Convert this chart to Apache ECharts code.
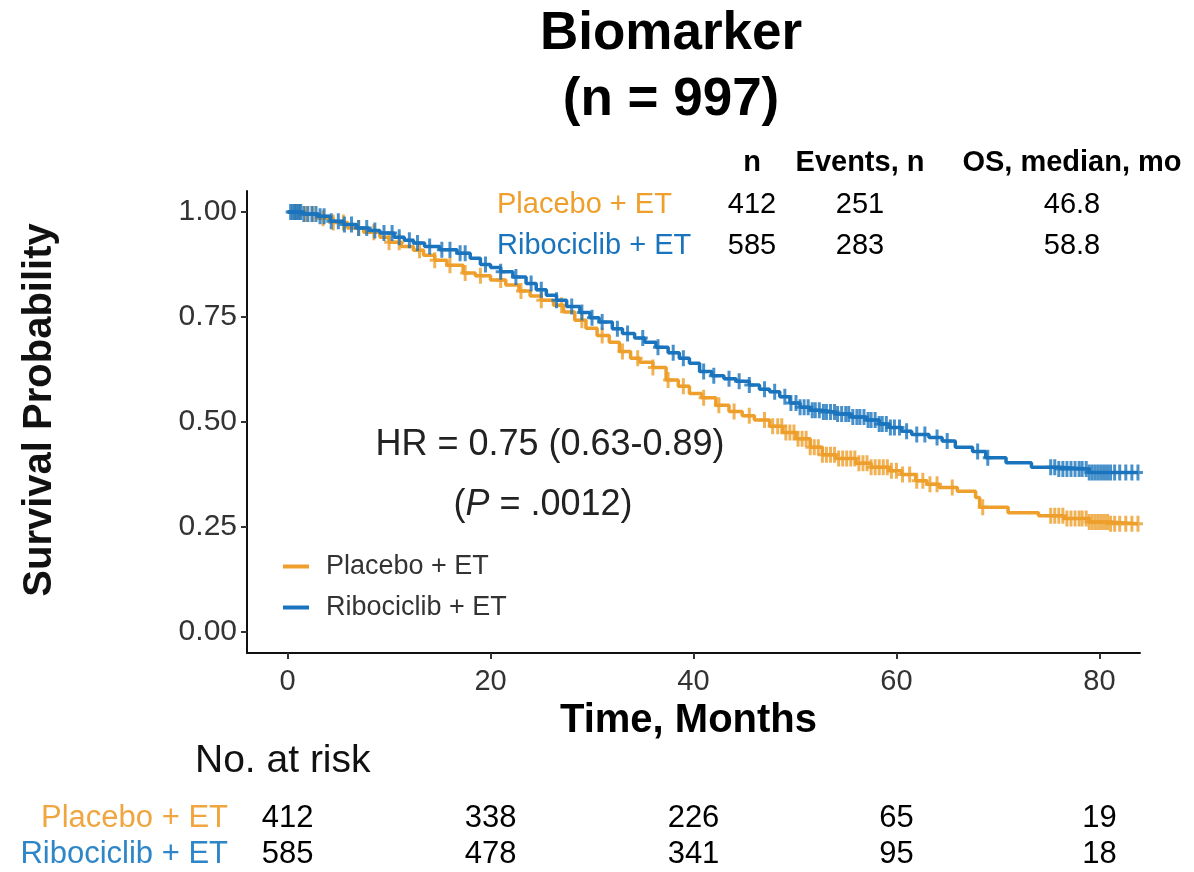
<!DOCTYPE html>
<html>
<head>
<meta charset="utf-8">
<script src="https://cdn.jsdelivr.net/npm/echarts@6/dist/echarts.min.js"></script>
<style>
html,body{margin:0;padding:0;background:#fff;}
#main{width:1194px;height:872px;}
</style>
</head>
<body>
<div id="main"></div>
<script>
// ---- Data ----
const groups = ['Placebo + ET', 'Ribociclib + ET'];

const placeboT = [0,1.5,3,4.5,5.9,7.5,9.1,10,11.2,12.4,13.4,14.5,15.7,17.3,18.5,20,21.5,22.8,23.9,25,26.2,27.2,28.3,29.4,30.5,31.7,32.7,33.8,34.7,36,37.3,38.5,39.6,40.8,42.2,43.5,44.8,46,47.5,48.8,50.1,51.5,52.7,54,56,57.5,59.3,60.5,61.9,63,64.2,66,67.8,68.2,71,74,76.5,79,81,83.8];
const placeboS = [1,0.995,0.985,0.975,0.962,0.952,0.94,0.928,0.918,0.909,0.897,0.885,0.873,0.855,0.848,0.838,0.826,0.812,0.8,0.79,0.778,0.762,0.742,0.723,0.706,0.69,0.668,0.652,0.642,0.63,0.6,0.585,0.568,0.558,0.54,0.525,0.515,0.505,0.49,0.475,0.46,0.44,0.422,0.413,0.402,0.392,0.384,0.375,0.36,0.352,0.344,0.335,0.32,0.297,0.284,0.277,0.27,0.262,0.258,0.258];

const ribociclibT = [0,1.5,3,4.2,5.5,6.8,8,9.1,10.5,11.5,12.4,13.5,15,16.7,18,19,20,21,22.2,23.5,24.5,25.5,26.5,27.5,28.8,29.8,30.7,32,33,34.2,35.2,36.3,37.5,38.6,39.6,40.6,41.8,43,44.2,45.5,46.5,47.5,48.5,49.5,50.5,51.5,52.5,54,55.5,57,58.3,59.3,60.5,61.5,63.2,64.5,65.8,67.5,68.8,70.8,73.3,76,79,83.8];
const ribociclibS = [1,0.995,0.99,0.978,0.97,0.962,0.956,0.95,0.94,0.933,0.926,0.918,0.91,0.902,0.89,0.875,0.868,0.858,0.845,0.83,0.815,0.802,0.79,0.775,0.761,0.748,0.738,0.722,0.711,0.7,0.69,0.678,0.665,0.652,0.64,0.62,0.61,0.603,0.597,0.588,0.578,0.572,0.56,0.545,0.535,0.528,0.524,0.519,0.512,0.505,0.495,0.487,0.478,0.47,0.463,0.455,0.44,0.43,0.415,0.403,0.392,0.388,0.38,0.38];

const placeboCensor = [0.8,1.2,1.8,2.5,3.5,4.5,5.5,7,8.5,10,11,13,14.5,16,17.5,19,21,23,25,27,29,31,33,34.5,36,37.5,39,41,42.5,44,45.5,47,47.8,48.3,48.7,49.1,49.5,49.9,50.3,50.7,51.1,51.5,51.9,52.3,52.7,53.1,53.5,53.9,54.3,54.7,55.1,55.5,55.9,56.3,56.7,57.1,57.5,57.9,58.3,58.7,59.1,59.5,60,60.6,61.3,62,62.6,63.3,64,65.5,68.5,75.2,75.6,76,76.4,76.8,77.2,77.6,78,78.3,78.7,79,79.3,79.6,79.9,80.2,80.5,80.8,81.1,81.5,82,82.6,83.2,83.8];
const ribociclibCensor = [0.3,0.5,0.7,0.9,1.1,1.3,1.6,2,2.4,2.8,3.2,3.6,4.3,5,5.6,6.3,7,7.8,8.6,9.5,10.3,11,12,12.8,14,15.2,16,17,17.5,19.5,21,22.5,24,25,26.5,28,29,30,31,32.5,33.5,35,36.5,38,39,41,42,43.5,44.5,45.5,47,48,49,49.6,50.1,50.5,50.9,51.3,51.7,52,52.4,52.8,53.1,53.5,53.9,54.2,54.6,55,55.3,55.7,56.1,56.4,56.8,57.2,57.5,57.9,58.3,58.6,59,59.4,59.8,60.3,61,62,62.8,64,65,68,69,75.2,75.6,76,76.4,76.8,77.2,77.6,78,78.3,78.7,79,79.3,79.6,79.9,80.2,80.5,80.8,81.1,81.5,82,82.6,83.2,83.8];

const xTicks = [0,20,40,60,80];
const yTicks = [0,0.25,0.5,0.75,1];
const riskTimes = [0,20,40,60,80];
const placeboRisk = [412,338,226,65,19];
const ribociclibRisk = [585,478,341,95,18];

const summaryHeader = ['n','Events, n','OS, median, mo'];
const placeboSummary = ['412','251','46.8'];
const ribociclibSummary = ['585','283','58.8'];

const hrText = 'HR = 0.75 (0.63-0.89)';
const pValue = '.0012';

// ---- Styling ----
const ORANGE = '#EE9F2C';
const BLUE = '#1A74BD';
const FONT = "'Liberation Sans', Arial, sans-serif";

function stepVal(T, S, t) {
  let v = S[0];
  for (let i = 0; i < T.length; i++) { if (T[i] <= t) v = S[i]; else break; }
  return v;
}
const pairs = (T, S) => T.map((t, i) => [t, S[i]]);
const censorPts = (C, T, S) => C.map(t => [t, stepVal(T, S, t)]);
const riskPts = (R, name) => riskTimes.map((t, i) => [t, name, R[i]]);

const CROSS = 'path://M-1.5,-8H1.5V-1.5H5V1.5H1.5V8H-1.5V1.5H-5V-1.5H-1.5Z';

const chart = echarts.init(document.getElementById('main'), null, {renderer: 'canvas'});

const colX = [752, 860, 1072];
const graphic = [
  {type:'text', x:671, y:34, style:{text:'Biomarker', fontSize:53, fontWeight:'bold', fontFamily:FONT, fill:'#000', align:'center', verticalAlign:'middle'}},
  {type:'text', x:671, y:100, style:{text:'(n = 997)', fontSize:53, fontWeight:'bold', fontFamily:FONT, fill:'#000', align:'center', verticalAlign:'middle'}},
  {type:'text', x:40, y:410, rotation: Math.PI / 2, style:{text:'Survival Probability', fontSize:40, fontWeight:'bold', fontFamily:FONT, fill:'#111', align:'center', verticalAlign:'middle'}},
  {type:'text', x:497, y:205, style:{text:groups[0], fontSize:29, fontFamily:FONT, fill:ORANGE, align:'left', verticalAlign:'middle'}},
  {type:'text', x:497, y:246, style:{text:groups[1], fontSize:29, fontFamily:FONT, fill:BLUE, align:'left', verticalAlign:'middle'}},
  {type:'text', x:550, y:445, style:{text:hrText, fontSize:36, fontFamily:FONT, fill:'#222', align:'center', verticalAlign:'middle'}},
  {type:'text', x:543, y:505, style:{text:'({i|P} = ' + pValue + ')', fontSize:36, fontFamily:FONT, fill:'#222', align:'center', verticalAlign:'middle', rich:{i:{fontStyle:'italic', fontSize:36, fontFamily:FONT, fill:'#222'}}}},
  {type:'text', x:195, y:761, style:{text:'No. at risk', fontSize:39, fontFamily:FONT, fill:'#111', align:'left', verticalAlign:'middle'}}
];
summaryHeader.forEach((h, i) => graphic.push({type:'text', x:colX[i], y:163, style:{text:h, fontSize:29, fontWeight:'bold', fontFamily:FONT, fill:'#000', align:'center', verticalAlign:'middle'}}));
placeboSummary.forEach((v, i) => graphic.push({type:'text', x:colX[i], y:205, style:{text:v, fontSize:29, fontFamily:FONT, fill:'#000', align:'center', verticalAlign:'middle'}}));
ribociclibSummary.forEach((v, i) => graphic.push({type:'text', x:colX[i], y:246, style:{text:v, fontSize:29, fontFamily:FONT, fill:'#000', align:'center', verticalAlign:'middle'}}));

const riskLabel = {show: true, position: 'inside', formatter: p => p.value[2], fontSize: 31, color: '#000', opacity: 1, textBorderWidth: 0, fontFamily: FONT};

const option = {
  backgroundColor: '#fff',
  animation: false,
  textStyle: {fontFamily: FONT},
  graphic: graphic,
  legend: {
    data: groups,
    orient: 'vertical',
    left: 278,
    top: 548,
    itemWidth: 26,
    itemHeight: 4,
    itemGap: 14,
    icon: 'rect',
    textStyle: {fontSize: 27, color: '#333', fontFamily: FONT, padding: [0, 0, 0, 12]}
  },
  grid: [
    {left: 247, right: 54, top: 191, bottom: 219, containLabel: false},
    {left: 247, right: 54, top: 801, height: 74, containLabel: false}
  ],
  xAxis: [
    {
      type: 'value', gridIndex: 0, min: -4, max: 84,
      name: 'Time, Months', nameLocation: 'middle', nameGap: 48,
      nameTextStyle: {fontSize: 40, fontWeight: 'bold', color: '#000', fontFamily: FONT, padding: [0, 10, 0, 0]},
      axisLine: {show: true, onZero: false, lineStyle: {color: '#111', width: 2}},
      axisTick: {show: true, length: 6, customValues: xTicks, lineStyle: {color: '#333', width: 2}},
      axisLabel: {customValues: xTicks, fontSize: 29, color: '#333', margin: 14, fontFamily: FONT},
      splitLine: {show: false}
    },
    {
      type: 'value', gridIndex: 1, min: -4, max: 84, show: false
    }
  ],
  yAxis: [
    {
      type: 'value', gridIndex: 0, min: -0.05, max: 1.05,
      axisLine: {show: true, onZero: false, lineStyle: {color: '#111', width: 2}},
      axisTick: {show: true, length: 6, customValues: yTicks, lineStyle: {color: '#333', width: 2}},
      axisLabel: {customValues: yTicks, fontSize: 30, color: '#333', margin: 10, fontFamily: FONT, formatter: v => Number(v).toFixed(2)},
      splitLine: {show: false}
    },
    {
      type: 'category', gridIndex: 1, data: [groups[1], groups[0]],
      axisLine: {show: false}, axisTick: {show: false},
      axisLabel: {
        interval: 0, hideOverlap: false,
        margin: 19, fontSize: 31, fontFamily: FONT,
        formatter: v => v === groups[0] ? '{p|' + v + '}' : '{r|' + v + '}',
        rich: {p: {color: '#F0A640', fontSize: 31, fontFamily: FONT}, r: {color: '#2E86C8', fontSize: 31, fontFamily: FONT}}
      }
    }
  ],
  series: [
    {
      name: groups[0], type: 'line', step: 'end', xAxisIndex: 0, yAxisIndex: 0,
      data: pairs(placeboT, placeboS), showSymbol: false, symbol: 'none',
      lineStyle: {color: ORANGE, width: 3.5}, itemStyle: {color: ORANGE}, z: 2
    },
    {
      name: groups[1], type: 'line', step: 'end', xAxisIndex: 0, yAxisIndex: 0,
      data: pairs(ribociclibT, ribociclibS), showSymbol: false, symbol: 'none',
      lineStyle: {color: BLUE, width: 3.5}, itemStyle: {color: BLUE}, z: 3
    },
    {
      name: 'placeboCensor', type: 'scatter', xAxisIndex: 0, yAxisIndex: 0,
      data: censorPts(placeboCensor, placeboT, placeboS),
      symbol: CROSS, symbolSize: [10, 16], itemStyle: {color: ORANGE}, z: 2
    },
    {
      name: 'ribociclibCensor', type: 'scatter', xAxisIndex: 0, yAxisIndex: 0,
      data: censorPts(ribociclibCensor, ribociclibT, ribociclibS),
      symbol: CROSS, symbolSize: [10, 16], itemStyle: {color: BLUE}, z: 3
    },
    {
      name: 'riskP', type: 'scatter', xAxisIndex: 1, yAxisIndex: 1,
      data: riskPts(placeboRisk, groups[0]), symbolSize: 1, itemStyle: {color: 'rgba(0,0,0,0)'},
      label: riskLabel
    },
    {
      name: 'riskR', type: 'scatter', xAxisIndex: 1, yAxisIndex: 1,
      data: riskPts(ribociclibRisk, groups[1]), symbolSize: 1, itemStyle: {color: 'rgba(0,0,0,0)'},
      label: riskLabel
    }
  ]
};
chart.setOption(option);
</script>
</body>
</html>
